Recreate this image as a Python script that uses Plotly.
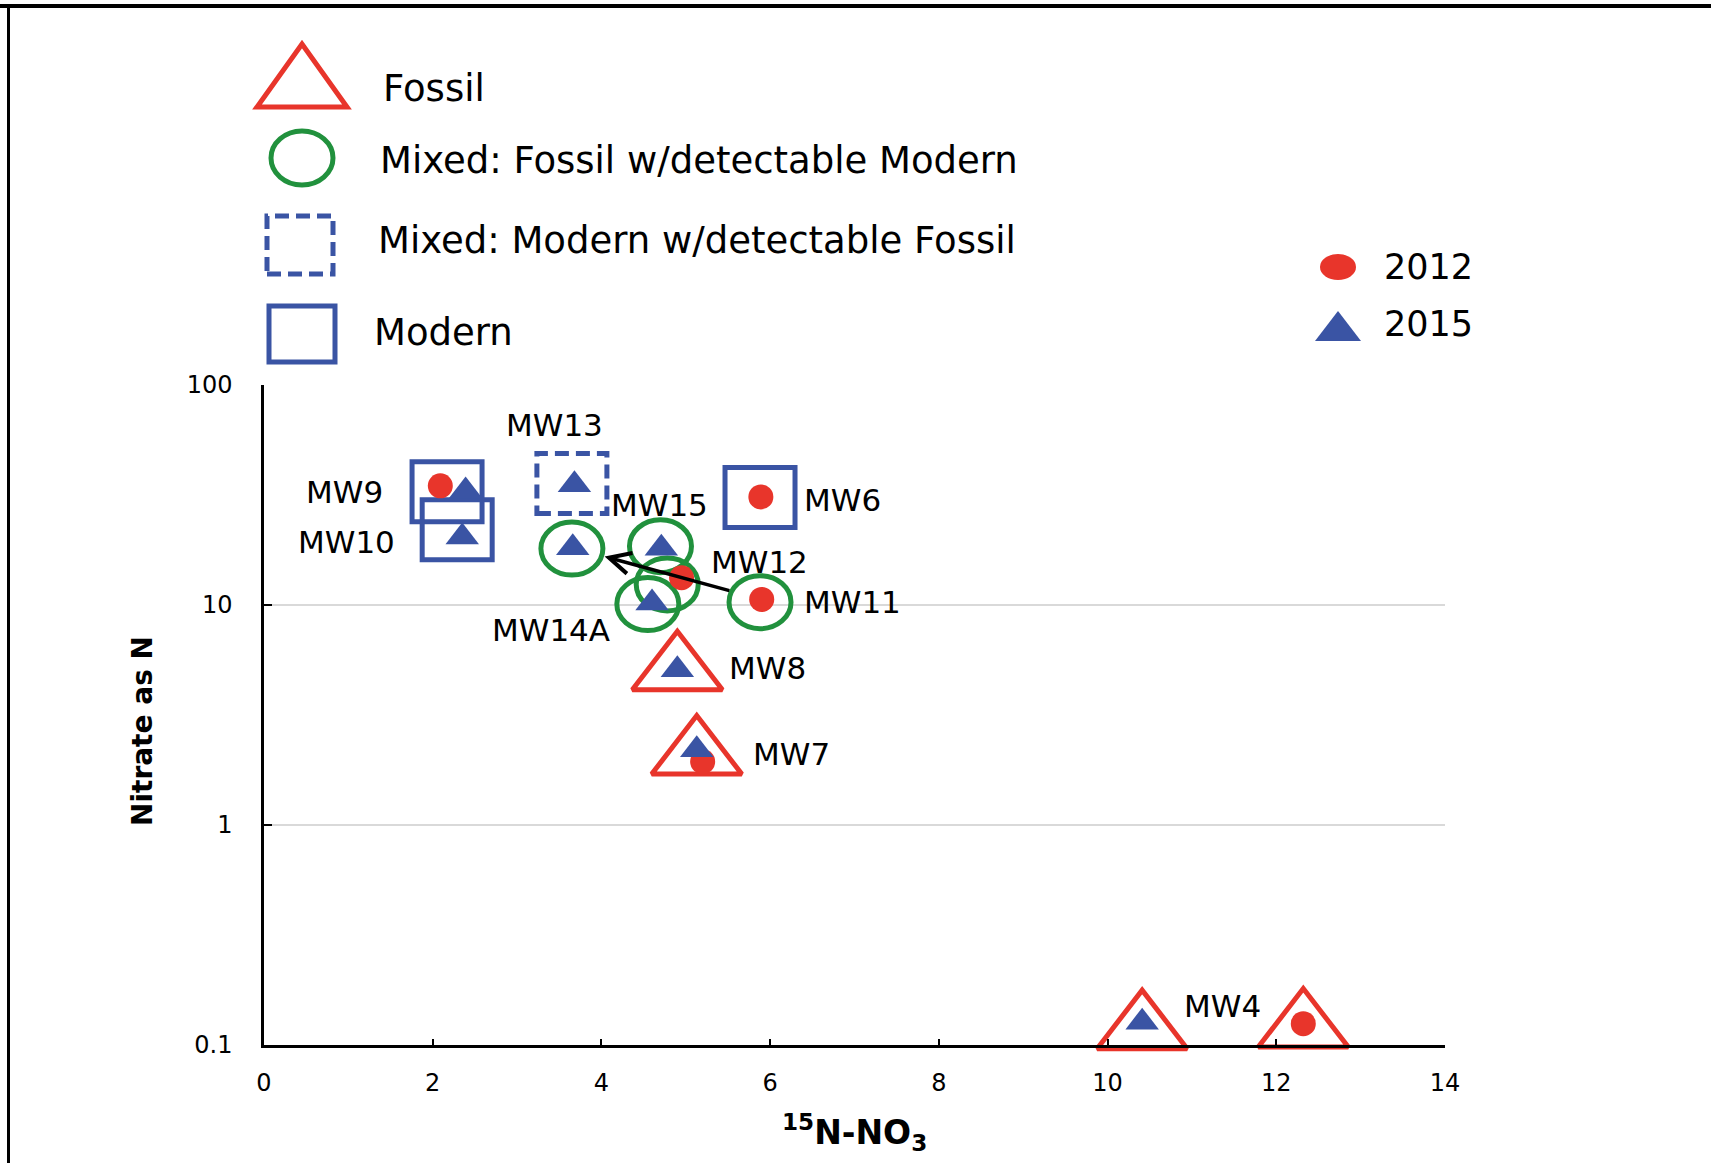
import math
import plotly.graph_objects as go

# ---- data -------------------------------------------------------------
# delta-15N of nitrate (x) and nitrate as N (y), by sampling year
wells_2012 = ["MW9", "MW6", "MW12", "MW11", "MW7", "MW4"]
x_2012 = [2.09, 5.89, 4.95, 5.90, 5.20, 12.32]
y_2012 = [34.8, 31.0, 13.3, 10.6, 1.94, 0.125]

wells_2015 = ["MW9", "MW10", "MW13", "MW15", "MW11", "MW14A", "MW8", "MW7", "MW4"]
x_2015 = [2.39, 2.35, 3.68, 4.71, 3.66, 4.60, 4.90, 5.13, 10.41]
y_2015 = [33.0, 20.4, 35.2, 18.1, 18.2, 10.2, 5.08, 2.20, 0.127]

# nitrate source classification, drawn as an outline around each sample group
class_wells = ["MW9", "MW10", "MW13", "MW6", "MW11", "MW15", "MW12", "MW14A",
               "MW11", "MW8", "MW7", "MW4", "MW4"]
class_type = ["Modern", "Modern", "Mixed modern", "Modern", "Mixed fossil",
              "Mixed fossil", "Mixed fossil", "Mixed fossil", "Mixed fossil",
              "Fossil", "Fossil", "Fossil", "Fossil"]
class_x = [2.17, 2.29, 3.65, 5.88, 3.65, 4.70, 4.78, 4.55, 5.88, 4.90, 5.13, 10.41, 12.32]
class_y = [32.7, 22.0, 35.7, 30.8, 18.05, 18.5, 12.4, 10.1, 10.3, 5.05, 2.09, 0.118, 0.120]

# well labels: which outline each label belongs to
label_wells = ["MW9", "MW10", "MW13", "MW15", "MW6", "MW12", "MW11", "MW14A", "MW8", "MW7", "MW4"]
label_outline = [0, 1, 2, 5, 3, 6, 8, 7, 9, 10, 11]

legend_classes = ["Fossil", "Mixed: Fossil w/detectable Modern",
                  "Mixed: Modern w/detectable Fossil", "Modern"]
legend_years = ["2012", "2015"]

x_ticks = [0, 2, 4, 6, 8, 10, 12, 14]
y_ticks = [0.1, 1, 10, 100]
y_ticktext = ["0.1", "1", "10", "100"]

# ---- styling ----------------------------------------------------------
RED = "#E8352B"
BLUE = "#3A54A4"
GREEN = "#21913D"
FONT = "DejaVu Sans"

W, H = 1711, 1163
ML, MR, MT, MB = 264, 266, 385, 118
PW, PH = W - ML - MR, H - MT - MB


def px(xp):
    return (xp - ML) / PW


def py(yp):
    return (H - MB - yp) / PH


def lg(values):
    # the y axis is drawn in decades: values are placed by their log10
    return [math.log10(v) for v in values]


# label placement relative to its outline: (xanchor, xshift, yshift) in pixels
LABEL_PLACE = {
    "MW9": ("right", -62, 0), "MW10": ("right", -60, -12), "MW13": ("center", -17, 58),
    "MW15": ("center", -1, 41), "MW6": ("left", 42, -2), "MW12": ("left", 42, 22),
    "MW11": ("left", 42, 0), "MW14A": ("right", -36, -26), "MW8": ("left", 50, 2),
    "MW7": ("left", 54, 1), "MW4": ("left", 40, 23),
}

RECT_W, RECT_H = 70, 60
ELL_W, ELL_H = 62, 53

cly = lg(class_y)

fig = go.Figure()

# fossil outlines (open triangles)
fx = [x for x, t in zip(class_x, class_type) if t == "Fossil"]
fy = [y for y, t in zip(cly, class_type) if t == "Fossil"]
fig.add_trace(go.Scatter(
    x=fx, y=fy, mode="markers", cliponaxis=False, hoverinfo="skip",
    marker=dict(symbol="triangle-up-open", size=78, color=RED, line=dict(width=5, color=RED)),
))

# 2012 samples
fig.add_trace(go.Scatter(
    x=x_2012, y=lg(y_2012), mode="markers", name="2012", text=wells_2012, cliponaxis=False,
    marker=dict(symbol="circle", size=25, color=RED),
))
# 2015 samples
fig.add_trace(go.Scatter(
    x=x_2015, y=lg(y_2015), mode="markers", name="2015", text=wells_2015, cliponaxis=False,
    marker=dict(symbol="triangle-up", size=29, color=BLUE),
))

shapes = []
# modern / mixed outlines around the samples
for cx, cy, t in zip(class_x, cly, class_type):
    if t == "Fossil":
        continue
    if t in ("Modern", "Mixed modern"):
        shapes.append(dict(
            type="rect", xref="x", yref="y", xsizemode="pixel", ysizemode="pixel",
            xanchor=cx, yanchor=cy, x0=-RECT_W / 2, x1=RECT_W / 2, y0=-RECT_H / 2, y1=RECT_H / 2,
            line=dict(color=BLUE, width=5, dash="14px,7px" if t == "Mixed modern" else "solid"),
            layer="between",
        ))
    else:
        shapes.append(dict(
            type="circle", xref="x", yref="y", xsizemode="pixel", ysizemode="pixel",
            xanchor=cx, yanchor=cy, x0=-ELL_W / 2, x1=ELL_W / 2, y0=-ELL_H / 2, y1=ELL_H / 2,
            line=dict(color=GREEN, width=5), layer="between",
        ))

# legend symbols (paper coordinates with pixel sizes)
LEG_X = 302
shapes.append(dict(type="path", xref="paper", yref="paper", xsizemode="pixel", ysizemode="pixel",
                   xanchor=px(LEG_X), yanchor=py(86), path="M-45,-21 L45,-21 L0,42 Z",
                   line=dict(color=RED, width=5)))
shapes.append(dict(type="circle", xref="paper", yref="paper", xsizemode="pixel", ysizemode="pixel",
                   xanchor=px(LEG_X), yanchor=py(158), x0=-31, x1=31, y0=-27, y1=27,
                   line=dict(color=GREEN, width=5)))
shapes.append(dict(type="rect", xref="paper", yref="paper", xsizemode="pixel", ysizemode="pixel",
                   xanchor=px(300), yanchor=py(245), x0=-33, x1=33, y0=-29, y1=29,
                   line=dict(color=BLUE, width=5, dash="14px,7px")))
shapes.append(dict(type="rect", xref="paper", yref="paper", xsizemode="pixel", ysizemode="pixel",
                   xanchor=px(LEG_X), yanchor=py(334), x0=-33, x1=33, y0=-28, y1=28,
                   line=dict(color=BLUE, width=5)))
# year legend symbols
shapes.append(dict(type="circle", xref="paper", yref="paper", xsizemode="pixel", ysizemode="pixel",
                   xanchor=px(1338), yanchor=py(267), x0=-18, x1=18, y0=-13, y1=13,
                   fillcolor=RED, line=dict(width=0)))
shapes.append(dict(type="path", xref="paper", yref="paper", xsizemode="pixel", ysizemode="pixel",
                   xanchor=px(1338), yanchor=py(331), path="M-23,-10 L23,-10 L0,20 Z",
                   fillcolor=BLUE, line=dict(width=0)))

# frame lines along the top and left edges
shapes.append(dict(type="line", xref="paper", yref="paper", x0=px(0), x1=px(W), y0=py(6), y1=py(6),
                   line=dict(color="black", width=4)))
shapes.append(dict(type="line", xref="paper", yref="paper", x0=px(8.5), x1=px(8.5), y0=py(6), y1=py(H),
                   line=dict(color="black", width=3)))

annotations = []
# well labels
for name, idx in zip(label_wells, label_outline):
    anchor, dx, dy = LABEL_PLACE[name]
    annotations.append(dict(
        x=class_x[idx], y=cly[idx], xref="x", yref="y", text=name,
        showarrow=False, xanchor=anchor, yanchor="middle", xshift=dx, yshift=dy,
        font=dict(family=FONT, size=31, color="black"),
    ))

# MW11 change between 2012 and 2015
i12 = wells_2012.index("MW11")
i15 = wells_2015.index("MW11")
annotations.append(dict(
    x=x_2015[i15], y=math.log10(y_2015[i15]), xref="x", yref="y",
    ax=x_2012[i12], ay=math.log10(y_2012[i12]), axref="x", ayref="y",
    text="", showarrow=True, arrowhead=5, arrowsize=1.2, arrowwidth=3.5, arrowcolor="black",
    standoff=33, startstandoff=32,
))

# legend text
leg_text_pos = [(381, 88), (378, 160), (376, 241), (372, 332)]
for txt, (lx, ly) in zip(legend_classes, leg_text_pos):
    annotations.append(dict(x=px(lx), y=py(ly), xref="paper", yref="paper", text=txt,
                            showarrow=False, xanchor="left", yanchor="middle",
                            font=dict(family=FONT, size=37, color="black")))
for txt, ly in zip(legend_years, [267, 324]):
    annotations.append(dict(x=px(1382), y=py(ly), xref="paper", yref="paper", text=txt,
                            showarrow=False, xanchor="left", yanchor="middle",
                            font=dict(family=FONT, size=35, color="black")))

# axis titles
annotations.append(dict(x=px(142), y=py(731), xref="paper", yref="paper",
                        text="<b>Nitrate as N</b>", textangle=-90, showarrow=False,
                        xanchor="center", yanchor="middle",
                        font=dict(family=FONT, size=28, color="black")))
annotations.append(dict(x=0.5, y=py(1132), xref="paper", yref="paper",
                        text="<b><sup>15</sup>N-NO<sub>3</sub></b>", showarrow=False,
                        xanchor="center", yanchor="middle",
                        font=dict(family=FONT, size=33, color="black")))

fig.update_layout(
    width=W, height=H, margin=dict(l=ML, r=MR, t=MT, b=MB),
    paper_bgcolor="white", plot_bgcolor="white", showlegend=False,
    shapes=shapes, annotations=annotations,
    xaxis=dict(range=[0, 14], tickvals=x_ticks, showgrid=False, zeroline=False,
               showline=True, linecolor="black", linewidth=2.5,
               ticks="inside", ticklen=6, tickwidth=2, tickcolor="black",
               ticklabelstandoff=14,
               tickfont=dict(family=FONT, size=24, color="black")),
    yaxis=dict(range=[-1, 2], tickvals=lg(y_ticks), ticktext=y_ticktext,
               showgrid=True, gridcolor="#d9d9d9", gridwidth=2, zeroline=False,
               showline=True, linecolor="black", linewidth=2.5,
               ticks="inside", ticklen=8, tickwidth=2, tickcolor="black",
               ticklabelstandoff=24,
               tickfont=dict(family=FONT, size=24, color="black")),
)

fig.write_html("out.html")
